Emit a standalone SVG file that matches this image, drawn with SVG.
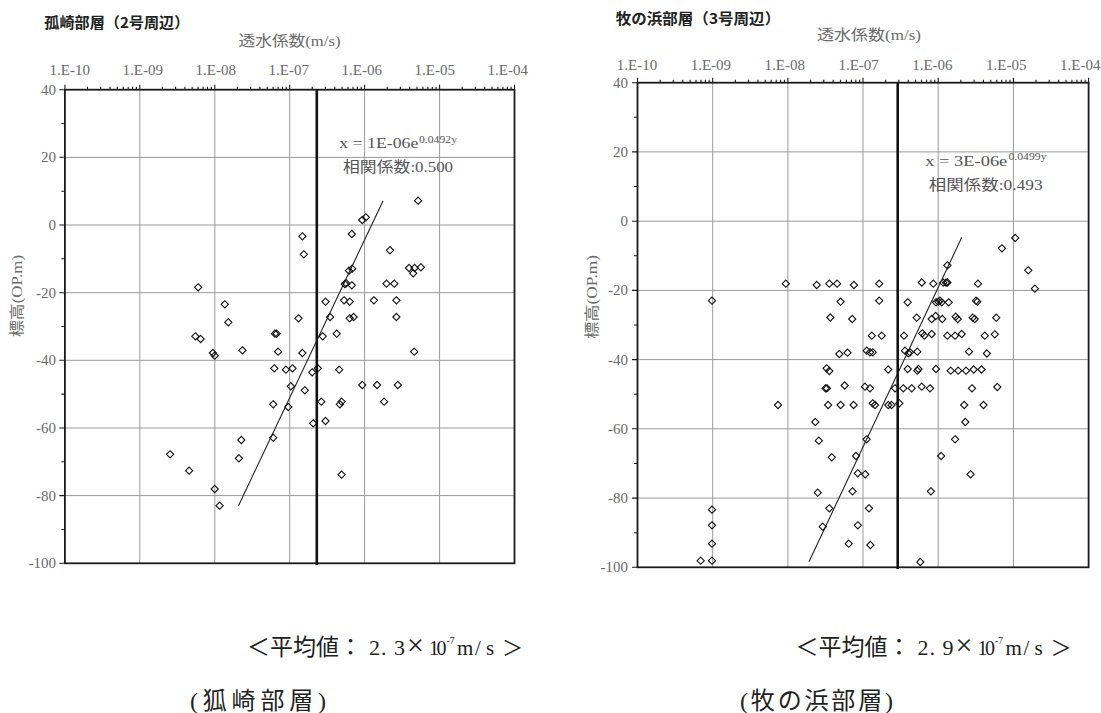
<svg xmlns="http://www.w3.org/2000/svg" xmlns:xlink="http://www.w3.org/1999/xlink" width="1101" height="713" viewBox="0 0 1101 713">
<style>
.grid{stroke:#9a9a9a;stroke-width:1;fill:none}
.frame{stroke:#1a1a1a;stroke-width:1.8;fill:none}
.tick{stroke:#1a1a1a;stroke-width:1.1;fill:none}
.avg{stroke:#111;stroke-width:2.6}
.trend{stroke:#222;stroke-width:1.1;fill:none}
.pt{fill:none;stroke:#111;stroke-width:1.1}
.lbl{font-family:"Liberation Serif","Noto Sans CJK JP",serif;font-size:15px;fill:#6a6a6a}
.ttl{font-family:"Noto Sans CJK JP",sans-serif;font-weight:bold;font-size:15px;fill:#222}
.eq{font-family:"Liberation Serif","Noto Sans CJK JP",serif;font-size:15px;fill:#555}
.cap{font-family:"Liberation Serif","Noto Sans CJK JP",serif;font-size:21px;fill:#222}
.mid{text-anchor:middle}
.end{text-anchor:end}
</style>
<defs>
<path id="dm" class="pt" d="M0,-3.6L3.6,0L0,3.6L-3.6,0Z"/>
<path id="decL" class="tick" d="M0,0v-5M22.56,0v-3M35.75,0v-3M45.11,0v-3M52.37,0v-3M58.31,0v-3M63.32,0v-3M67.67,0v-3M71.5,0v-3"/>
<path id="decR" class="tick" d="M0,0v-5M22.63,0v-3M35.87,0v-3M45.26,0v-3M52.55,0v-3M58.5,0v-3M63.53,0v-3M67.89,0v-3M71.74,0v-3"/>
</defs>

<g id="chart-left">
<text class="ttl" x="44.3" y="28" textLength="145" lengthAdjust="spacingAndGlyphs">孤崎部層（2号周辺）</text>
<text class="lbl" x="238.5" y="46" textLength="102" lengthAdjust="spacingAndGlyphs">透水係数(m/s)</text>
<g class="lbl mid">
<text x="69.8" y="75">1.E-10</text>
<text x="142.8" y="75">1.E-09</text>
<text x="215.8" y="75">1.E-08</text>
<text x="288.7" y="75">1.E-07</text>
<text x="361.7" y="75">1.E-06</text>
<text x="434.7" y="75">1.E-05</text>
<text x="507.7" y="75">1.E-04</text>
</g>
<g class="lbl end">
<text x="56" y="94.7">40</text>
<text x="56" y="162.3">20</text>
<text x="56" y="230">0</text>
<text x="56" y="297.7">-20</text>
<text x="56" y="365.3">-40</text>
<text x="56" y="433">-60</text>
<text x="56" y="500.6">-80</text>
<text x="56" y="568.3">-100</text>
</g>
<text class="lbl mid" transform="translate(22,296) rotate(-90)" textLength="82" lengthAdjust="spacingAndGlyphs">標高(OP.m)</text>
<path class="grid" d="M139.8,89.7V563.3M214.8,89.7V563.3M289.7,89.7V563.3M364.6,89.7V563.3M439.6,89.7V563.3M64.9,157.4H514.5M64.9,225H514.5M64.9,292.7H514.5M64.9,360.3H514.5M64.9,428H514.5M64.9,495.6H514.5"/>
<g>
<use href="#decL" x="64.9" y="89.7"/><use href="#decL" x="139.8" y="89.7"/><use href="#decL" x="214.8" y="89.7"/><use href="#decL" x="289.7" y="89.7"/><use href="#decL" x="364.6" y="89.7"/><use href="#decL" x="439.6" y="89.7"/>
<path class="tick" d="M514.5,89.7v-5"/>
<path class="tick" d="M64.9,89.7h-5.5M64.9,123.5h-3.5M64.9,157.3h-5.5M64.9,191.2h-3.5M64.9,225h-5.5M64.9,258.8h-3.5M64.9,292.7h-5.5M64.9,326.5h-3.5M64.9,360.3h-5.5M64.9,394.1h-3.5M64.9,428h-5.5M64.9,461.8h-3.5M64.9,495.6h-5.5M64.9,529.5h-3.5M64.9,563.3h-5.5"/>
</g>
<rect class="frame" x="64.9" y="89.7" width="449.6" height="473.6"/>
<line class="avg" x1="316.8" y1="89.7" x2="316.8" y2="565"/>
<line class="trend" x1="238.5" y1="505.7" x2="383" y2="201"/>
<text class="eq" x="339.3" y="148" textLength="79" lengthAdjust="spacingAndGlyphs">x = 1E-06e</text>
<text class="eq" x="419" y="142.5" style="font-size:10.5px" textLength="38" lengthAdjust="spacingAndGlyphs">0.0492y</text>
<text class="eq" x="343" y="172" textLength="110" lengthAdjust="spacingAndGlyphs">相関係数:0.500</text>
<g id="pts-left">
<use href="#dm" x="418.1" y="200.7"/><use href="#dm" x="362.3" y="220"/><use href="#dm" x="365.8" y="217.3"/><use href="#dm" x="351.8" y="234"/><use href="#dm" x="302.4" y="236.3"/>
<use href="#dm" x="303.8" y="254.3"/><use href="#dm" x="390" y="250.3"/><use href="#dm" x="409" y="268"/><use href="#dm" x="413.2" y="273.3"/><use href="#dm" x="414.6" y="268"/>
<use href="#dm" x="420.9" y="267.3"/><use href="#dm" x="349" y="270.7"/><use href="#dm" x="352.2" y="268.7"/><use href="#dm" x="344.8" y="284"/><use href="#dm" x="346.2" y="283.3"/>
<use href="#dm" x="351.8" y="285.3"/><use href="#dm" x="386.5" y="283.7"/><use href="#dm" x="394.3" y="283.7"/><use href="#dm" x="198.2" y="287.3"/><use href="#dm" x="224.8" y="304.3"/>
<use href="#dm" x="325.5" y="301.7"/><use href="#dm" x="344.1" y="300.3"/><use href="#dm" x="349.7" y="301.7"/><use href="#dm" x="373.9" y="300.3"/><use href="#dm" x="396.4" y="300.3"/>
<use href="#dm" x="228.3" y="322.3"/><use href="#dm" x="298.5" y="318.3"/><use href="#dm" x="330.1" y="317"/><use href="#dm" x="349.7" y="318.3"/><use href="#dm" x="353.6" y="317"/>
<use href="#dm" x="396.4" y="317"/><use href="#dm" x="195.4" y="336.3"/><use href="#dm" x="200.6" y="339"/><use href="#dm" x="275" y="333.7"/><use href="#dm" x="276.7" y="333.7"/>
<use href="#dm" x="322.7" y="336.3"/><use href="#dm" x="336.7" y="333.7"/><use href="#dm" x="212.9" y="353"/><use href="#dm" x="214.7" y="355.7"/><use href="#dm" x="242.4" y="350.3"/>
<use href="#dm" x="278.1" y="351.7"/><use href="#dm" x="302.4" y="353"/><use href="#dm" x="414.2" y="351.7"/><use href="#dm" x="274.3" y="368.3"/><use href="#dm" x="285.9" y="369.7"/>
<use href="#dm" x="292.5" y="368.3"/><use href="#dm" x="312.2" y="372.3"/><use href="#dm" x="317.8" y="368.3"/><use href="#dm" x="339.2" y="369.7"/><use href="#dm" x="290.8" y="386.3"/>
<use href="#dm" x="304.8" y="390.3"/><use href="#dm" x="362.3" y="385"/><use href="#dm" x="377.1" y="385"/><use href="#dm" x="397.8" y="385"/><use href="#dm" x="273.2" y="404.3"/>
<use href="#dm" x="288.3" y="407"/><use href="#dm" x="321.3" y="401.7"/><use href="#dm" x="339.9" y="404.3"/><use href="#dm" x="341.6" y="401.7"/><use href="#dm" x="384.1" y="401.7"/>
<use href="#dm" x="313.2" y="423.3"/><use href="#dm" x="325.5" y="421"/><use href="#dm" x="241.3" y="440"/><use href="#dm" x="273.2" y="437.7"/><use href="#dm" x="238.9" y="458.3"/>
<use href="#dm" x="170.1" y="454.3"/><use href="#dm" x="189.1" y="470.7"/><use href="#dm" x="341.6" y="474.7"/><use href="#dm" x="214.7" y="489"/><use href="#dm" x="219.6" y="505.7"/>
</g>
</g>

<g id="chart-right">
<text class="ttl" x="615.7" y="24" textLength="164.5" lengthAdjust="spacingAndGlyphs">牧の浜部層（3号周辺）</text>
<text class="lbl" x="817" y="40" textLength="104" lengthAdjust="spacingAndGlyphs">透水係数(m/s)</text>
<g class="lbl mid">
<text x="637" y="70">1.E-10</text>
<text x="710.9" y="70">1.E-09</text>
<text x="784.7" y="70">1.E-08</text>
<text x="858.6" y="70">1.E-07</text>
<text x="932.4" y="70">1.E-06</text>
<text x="1006.3" y="70">1.E-05</text>
<text x="1080.2" y="70">1.E-04</text>
</g>
<g class="lbl end">
<text x="628" y="87.7">40</text>
<text x="628" y="156.9">20</text>
<text x="628" y="226.2">0</text>
<text x="628" y="295.4">-20</text>
<text x="628" y="364.6">-40</text>
<text x="628" y="433.8">-60</text>
<text x="628" y="503.1">-80</text>
<text x="628" y="572.3">-100</text>
</g>
<text class="lbl mid" transform="translate(596.5,297) rotate(-90)" textLength="84" lengthAdjust="spacingAndGlyphs">標高(OP.m)</text>
<path class="grid" d="M712.7,82.7V567.3M787.9,82.7V567.3M863,82.7V567.3M938.2,82.7V567.3M1013.4,82.7V567.3M637.5,151.9H1088.6M637.5,221.2H1088.6M637.5,290.4H1088.6M637.5,359.6H1088.6M637.5,428.8H1088.6M637.5,498.1H1088.6"/>
<g>
<use href="#decR" x="637.5" y="82.7"/><use href="#decR" x="712.7" y="82.7"/><use href="#decR" x="787.9" y="82.7"/><use href="#decR" x="863" y="82.7"/><use href="#decR" x="938.2" y="82.7"/><use href="#decR" x="1013.4" y="82.7"/>
<path class="tick" d="M1088.6,82.7v-5"/>
<path class="tick" d="M637.5,82.7h-5.5M637.5,117.3h-3.5M637.5,151.9h-5.5M637.5,186.5h-3.5M637.5,221.2h-5.5M637.5,255.8h-3.5M637.5,290.4h-5.5M637.5,325h-3.5M637.5,359.6h-5.5M637.5,394.2h-3.5M637.5,428.8h-5.5M637.5,463.5h-3.5M637.5,498.1h-5.5M637.5,532.7h-3.5M637.5,567.3h-5.5"/>
</g>
<rect class="frame" x="637.5" y="82.7" width="451.1" height="484.6"/>
<line class="avg" x1="897.7" y1="82.7" x2="897.7" y2="569"/>
<line class="trend" x1="809" y1="561.7" x2="961.8" y2="237.3"/>
<text class="eq" x="925.3" y="165.5" textLength="82" lengthAdjust="spacingAndGlyphs">x = 3E-06e</text>
<text class="eq" x="1008.5" y="160" style="font-size:10.5px" textLength="38" lengthAdjust="spacingAndGlyphs">0.0499y</text>
<text class="eq" x="928.8" y="189.5" textLength="114" lengthAdjust="spacingAndGlyphs">相関係数:0.493</text>
<g id="pts-right">
<use href="#dm" x="785.8" y="283.7"/><use href="#dm" x="816.7" y="285"/><use href="#dm" x="829.3" y="283.7"/><use href="#dm" x="837.1" y="283.7"/><use href="#dm" x="853.9" y="285"/>
<use href="#dm" x="879.2" y="283.7"/><use href="#dm" x="921.8" y="282.5"/><use href="#dm" x="933.3" y="283.7"/><use href="#dm" x="943.3" y="282.7"/><use href="#dm" x="946" y="282.7"/>
<use href="#dm" x="947.4" y="282.5"/><use href="#dm" x="978" y="283.7"/>
<use href="#dm" x="1015.2" y="238"/><use href="#dm" x="1001.9" y="248.3"/><use href="#dm" x="1028.2" y="270.3"/><use href="#dm" x="1034.9" y="288.7"/><use href="#dm" x="947.4" y="265.3"/>
<use href="#dm" x="712" y="300.7"/><use href="#dm" x="840.6" y="301.7"/><use href="#dm" x="879.2" y="300.7"/><use href="#dm" x="907.7" y="302.3"/><use href="#dm" x="936" y="302.3"/>
<use href="#dm" x="938.3" y="301.7"/><use href="#dm" x="940" y="300.7"/><use href="#dm" x="941.7" y="302.3"/><use href="#dm" x="948.7" y="302.3"/><use href="#dm" x="976" y="300.7"/><use href="#dm" x="977.3" y="301.7"/>
<use href="#dm" x="830.3" y="317.5"/><use href="#dm" x="852.2" y="319"/><use href="#dm" x="916.7" y="317.7"/><use href="#dm" x="931.7" y="319"/><use href="#dm" x="935.7" y="316"/>
<use href="#dm" x="942.3" y="319"/><use href="#dm" x="955.7" y="316.7"/><use href="#dm" x="957.7" y="319"/><use href="#dm" x="972.7" y="317.7"/><use href="#dm" x="974.7" y="319"/><use href="#dm" x="996.2" y="317.7"/>
<use href="#dm" x="871.8" y="335.7"/><use href="#dm" x="881.7" y="335.7"/><use href="#dm" x="904" y="335.7"/><use href="#dm" x="922.3" y="333.3"/><use href="#dm" x="924.3" y="335.7"/>
<use href="#dm" x="931.7" y="334"/><use href="#dm" x="947.3" y="335.7"/><use href="#dm" x="955" y="335.7"/><use href="#dm" x="961.7" y="334"/><use href="#dm" x="984.8" y="335.7"/><use href="#dm" x="994.8" y="334.3"/>
<use href="#dm" x="839.3" y="354"/><use href="#dm" x="847.5" y="352.7"/><use href="#dm" x="866.7" y="350.7"/><use href="#dm" x="870" y="352.3"/><use href="#dm" x="872.7" y="352.3"/>
<use href="#dm" x="905" y="350.7"/><use href="#dm" x="908.3" y="353.3"/><use href="#dm" x="910" y="352.3"/><use href="#dm" x="917.3" y="351.7"/><use href="#dm" x="969" y="351.7"/><use href="#dm" x="986.9" y="353.5"/>
<use href="#dm" x="826.6" y="368.3"/><use href="#dm" x="829.3" y="371"/><use href="#dm" x="888.2" y="369.5"/><use href="#dm" x="907.7" y="369"/><use href="#dm" x="917.3" y="370.7"/><use href="#dm" x="918.5" y="369"/>
<use href="#dm" x="936" y="369"/><use href="#dm" x="950.7" y="370.7"/><use href="#dm" x="958.2" y="370.7"/><use href="#dm" x="966" y="370.7"/><use href="#dm" x="973.7" y="369.5"/><use href="#dm" x="981.5" y="369.5"/>
<use href="#dm" x="825.5" y="388.3"/><use href="#dm" x="826.9" y="388.3"/><use href="#dm" x="844.7" y="385.5"/><use href="#dm" x="865" y="386.7"/><use href="#dm" x="870" y="388.3"/><use href="#dm" x="895" y="388.3"/>
<use href="#dm" x="903.3" y="388.3"/><use href="#dm" x="911.7" y="388.3"/><use href="#dm" x="921.7" y="386.7"/><use href="#dm" x="930" y="388.3"/><use href="#dm" x="972" y="388.3"/><use href="#dm" x="997.3" y="387"/>
<use href="#dm" x="778" y="405"/><use href="#dm" x="828.1" y="405"/><use href="#dm" x="840.6" y="405"/><use href="#dm" x="853.6" y="405"/><use href="#dm" x="872.7" y="403.3"/><use href="#dm" x="875" y="405"/>
<use href="#dm" x="888.3" y="405"/><use href="#dm" x="891.5" y="405"/><use href="#dm" x="899.3" y="403.3"/><use href="#dm" x="964.2" y="405"/><use href="#dm" x="983.5" y="405"/>
<use href="#dm" x="815.3" y="422"/><use href="#dm" x="965.3" y="422"/><use href="#dm" x="818.8" y="440.7"/><use href="#dm" x="866.6" y="439.3"/><use href="#dm" x="955.1" y="439.3"/>
<use href="#dm" x="831.8" y="457.3"/><use href="#dm" x="856" y="456"/><use href="#dm" x="941.1" y="456"/><use href="#dm" x="857.8" y="473.3"/><use href="#dm" x="865.2" y="474.3"/><use href="#dm" x="970.6" y="474.3"/>
<use href="#dm" x="817.7" y="492.7"/><use href="#dm" x="852.5" y="491.3"/><use href="#dm" x="930.9" y="491.3"/><use href="#dm" x="712" y="509.7"/><use href="#dm" x="829.3" y="508.3"/><use href="#dm" x="869" y="508.3"/>
<use href="#dm" x="712" y="525.3"/><use href="#dm" x="822.7" y="526.7"/><use href="#dm" x="857.8" y="525.3"/><use href="#dm" x="712" y="543.7"/><use href="#dm" x="848.7" y="543.7"/><use href="#dm" x="870.4" y="545"/>
<use href="#dm" x="700.7" y="560.7"/><use href="#dm" x="712" y="560.7"/><use href="#dm" x="920.3" y="562"/>
</g>
</g>

<g id="captions">
<text class="cap"><tspan x="247" y="655" style="font-size:23px">＜平均値：</tspan><tspan x="369 381 394" y="655" style="font-size:22px">2.3</tspan><tspan x="407" y="655" style="font-size:30px">×</tspan><tspan x="429 436.5" y="655" style="font-size:20px">10</tspan><tspan x="446.5" y="644" style="font-size:9.5px">-7</tspan><tspan x="457 475 486" y="655">m/s</tspan><tspan x="502" y="655">＞</tspan></text>
<text class="cap"><tspan x="795.6" y="655" style="font-size:23px">＜平均値：</tspan><tspan x="917.6 929.6 942.6" y="655" style="font-size:22px">2.9</tspan><tspan x="955.6" y="655" style="font-size:30px">×</tspan><tspan x="977.6 985.1" y="655" style="font-size:20px">10</tspan><tspan x="995.1" y="644" style="font-size:9.5px">-7</tspan><tspan x="1005.6 1023.6 1034.6" y="655">m/s</tspan><tspan x="1050.6" y="655">＞</tspan></text>
<text class="cap" x="190" y="709" style="font-size:24px" textLength="136" lengthAdjust="spacing">(狐崎部層)</text>
<text class="cap" x="740" y="709" style="font-size:24px" textLength="153" lengthAdjust="spacing">(牧の浜部層)</text>
</g>
</svg>
